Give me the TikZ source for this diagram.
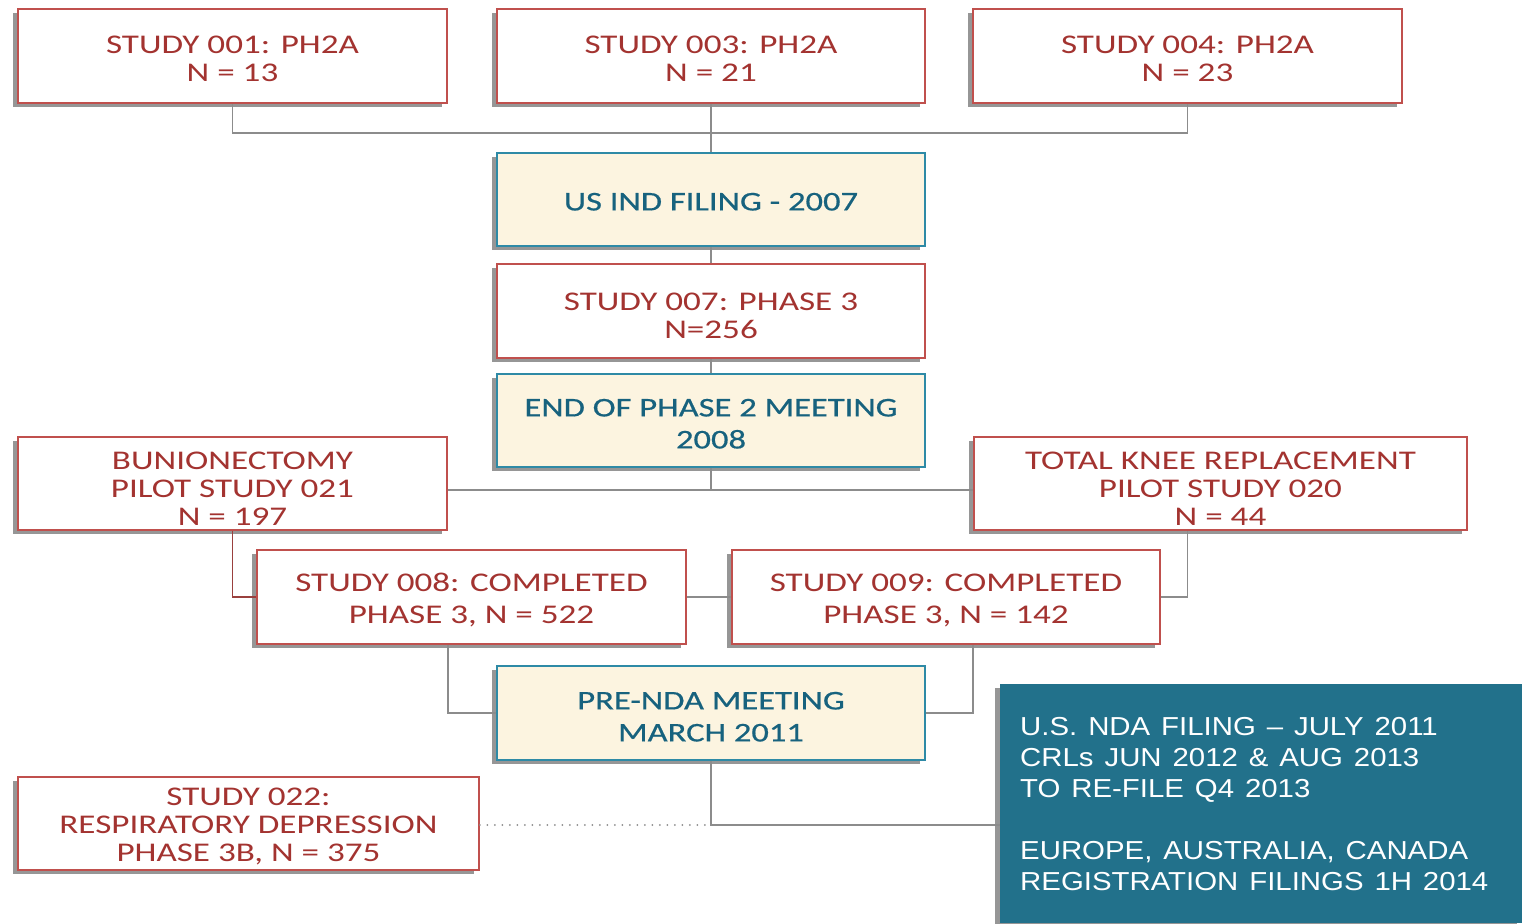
\documentclass[tikz,border=0pt]{standalone}
\usepackage{fontspec}
\usetikzlibrary{shadows,calc}
\newfontfamily\boxfont[FakeStretch=1.3]{Carlito}
\newfontfamily\tealfont[FakeStretch=1.28,FakeBold=0.6]{Carlito}
\newfontfamily\ndafont[FakeStretch=1.13]{Liberation Sans}
\newcommand\tstrut[1]{\rule{0pt}{#1pt}}
\definecolor{redtxt}{HTML}{A33330}
\definecolor{redline}{HTML}{C0504D}
\definecolor{tealtxt}{HTML}{17627E}
\definecolor{tealline}{HTML}{2E8AA6}
\definecolor{cream}{HTML}{FCF4E0}
\definecolor{ndablue}{HTML}{22718B}
\definecolor{conngray}{HTML}{8C8C8C}
\tikzset{
  boxshadow/.style={drop shadow={shadow xshift=-5pt, shadow yshift=-4pt, fill=black!55, opacity=0.75}},
  redbox/.style={draw=redline, line width=1.8pt, fill=white, boxshadow, text=redtxt, align=center,
    inner sep=0pt, font=\boxfont\fontsize{27}{28}\selectfont},
  tealbox/.style={draw=tealline, line width=1.8pt, fill=cream, boxshadow, text=tealtxt, align=center,
    inner sep=0pt, font=\tealfont\fontsize{27}{32}\selectfont},
  conn/.style={draw=conngray, line width=1.6pt},
  redconn/.style={draw=redline!80!black, line width=1.6pt},
  dotconn/.style={draw=conngray, line width=2pt, line cap=round, dash pattern=on 0pt off 7.5pt},
}
\begin{document}
\begin{tikzpicture}[x=1pt,y=-1pt]
\useasboundingbox (0,0) rectangle (1522,923);
% top studies
\node[redbox, minimum width=429pt, minimum height=94pt] (s001) at (232.5,56) {\tstrut{24}STUDY 001: PH2A\\N = 13};
\node[redbox, minimum width=428pt, minimum height=94pt] (s003) at (711,56) {\tstrut{24}STUDY 003: PH2A\\N = 21};
\node[redbox, minimum width=429pt, minimum height=94pt] (s004) at (1187.5,56) {\tstrut{24}STUDY 004: PH2A\\N = 23};
% central column
\node[tealbox, minimum width=428pt, minimum height=93pt] (ind) at (711,199.5) {\tstrut{22}US IND FILING - 2007};
\node[redbox, minimum width=428pt, minimum height=94pt] (s007) at (711,311) {\tstrut{27}STUDY 007: PHASE 3\\N=256};
\node[tealbox, minimum width=428pt, minimum height=93pt] (eop) at (711,420.5) {\tstrut{24}END OF PHASE 2 MEETING\\2008};
% pilots
\node[redbox, minimum width=429pt, minimum height=93pt] (bun) at (232.5,483.5) {\tstrut{28}BUNIONECTOMY\\PILOT STUDY 021\\N = 197};
\node[redbox, minimum width=493pt, minimum height=93pt] (tkr) at (1220.5,483.5) {\tstrut{27}TOTAL KNEE REPLACEMENT\\PILOT STUDY 020\\N = 44};
% phase 3
\node[redbox, minimum width=429pt, minimum height=94pt] (s008) at (471.5,597) {\tstrut{25}STUDY 008: COMPLETED\\[4pt]PHASE 3, N = 522};
\node[redbox, minimum width=428pt, minimum height=94pt] (s009) at (946,597) {\tstrut{25}STUDY 009: COMPLETED\\[4pt]PHASE 3, N = 142};
\node[tealbox, minimum width=428pt, minimum height=94pt] (pre) at (711,713) {\tstrut{25}PRE-NDA MEETING\\MARCH 2011};
\node[redbox, minimum width=461pt, minimum height=93pt] (s022) at (248.5,823.5) {\tstrut{24}STUDY 022:\\RESPIRATORY DEPRESSION\\PHASE 3B, N = 375};
% NDA box
\node[fill=ndablue, boxshadow, minimum width=522pt, minimum height=239pt, inner sep=0pt] (nda) at (1261,803.5) {};
\node[anchor=north west, text=white, align=left, inner sep=0pt,
  font=\ndafont\fontsize{26}{31}\selectfont] (ndatxt) at (1020,717)
  {\spaceskip=0.42em U.S. NDA FILING – JULY 2011\\
   \spaceskip=0.42em CRLs JUN 2012 \& AUG 2013\\
   \spaceskip=0.42em TO RE-FILE Q4 2013\\[31pt]
   \spaceskip=0.42em EUROPE, AUSTRALIA, CANADA\\
   \spaceskip=0.42em REGISTRATION FILINGS 1H 2014};
% junctions
\coordinate (j1) at (711,133);
\coordinate (j2) at (711,490);
\coordinate (j3) at (711,825);
% connectors
\draw[conn] (s001.south) -- (s001.south |- j1) -- (s004.south |- j1) -- (s004.south);
\draw[conn] (s003.south) -- (ind.north);
\draw[conn] (ind.south) -- (s007.north);
\draw[conn] (s007.south) -- (eop.north);
\draw[conn] (eop.south) -- (eop.south |- j2);
\draw[conn] (bun.east |- j2) -- (tkr.west |- j2);
\draw[redconn] (bun.south) |- (s008.west);
\draw[conn] (s008.east) -- (s009.west);
\draw[conn] (s004.south |- tkr.south) |- (s009.east);
\draw[conn] (s008.south -| bun.east) |- (pre.west);
\draw[conn] (s009.south -| tkr.west) |- (pre.east);
\draw[conn] (pre.south) -- (pre.south |- j3) -- (nda.west |- j3);
\draw[dotconn] (s022.east |- j3) -- (pre.south |- j3);
\end{tikzpicture}
\end{document}
